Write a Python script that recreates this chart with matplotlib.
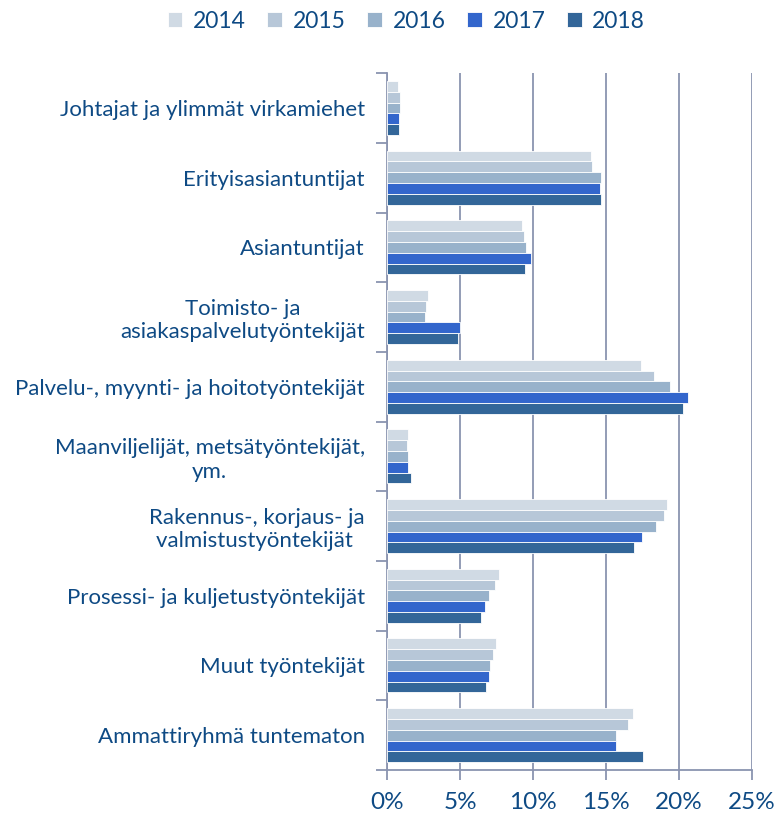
import numpy as np
import matplotlib.pyplot as plt
from matplotlib.ticker import FixedLocator, PercentFormatter

# occupational group shares (%) by year
categories = [
    'Johtajat ja ylimmät virkamiehet',
    'Erityisasiantuntijat',
    'Asiantuntijat',
    'Toimisto- ja\nasiakaspalvelutyöntekijät',
    'Palvelu-, myynti- ja hoitotyöntekijät',
    'Maanviljelijät, metsätyöntekijät,\nym.',
    'Rakennus-, korjaus- ja\nvalmistustyöntekijät ',
    'Prosessi- ja kuljetustyöntekijät',
    'Muut työntekijät',
    'Ammattiryhmä tuntematon',
]
years = ['2014', '2015', '2016', '2017', '2018']
v2014 = [0.78, 13.97, 9.25, 2.79, 17.4, 1.44, 19.2, 7.67, 7.44, 16.87]
v2015 = [0.89, 14.04, 9.36, 2.65, 18.3, 1.39, 18.97, 7.40, 7.24, 16.53]
v2016 = [0.91, 14.68, 9.54, 2.58, 19.4, 1.44, 18.45, 7.01, 7.05, 15.68]
v2017 = [0.84, 14.61, 9.84, 5.02, 20.64, 1.44, 17.49, 6.71, 7.01, 15.68]
v2018 = [0.80, 14.66, 9.45, 4.84, 20.25, 1.64, 16.92, 6.44, 6.76, 17.53]
series = [v2014, v2015, v2016, v2017, v2018]
colors = ['#D0DAE4', '#B7C7D8', '#98B2CB', '#3366CC', '#336699']

TEXT = '#0E4A84'
GRID = '#8A94B0'

plt.rcParams['font.family'] = ['Lato', 'DejaVu Sans']

fig = plt.figure(figsize=(7.77, 8.17), dpi=100)
ax = fig.add_axes([0.498, 0.0575, 0.47, 0.853])

n = len(categories)
y = np.arange(n)
bh = 0.155
for k, (yr, vals, c) in enumerate(zip(years, series, colors)):
    ax.barh(y + (k - 2) * bh, vals, height=bh, color=c, edgecolor='white',
            linewidth=0.6, label=yr, zorder=3)

ax.set_ylim(n - 0.5, -0.5)
ax.set_xlim(0, 25)
ax.xaxis.set_major_locator(FixedLocator([0, 5, 10, 15, 20, 25]))
ax.xaxis.set_major_formatter(PercentFormatter(decimals=0))
ax.grid(axis='x', color=GRID, linewidth=1.3, zorder=0)

ax.set_yticks(y)
ax.set_yticklabels(categories, fontsize=16, color=TEXT, ha='right',
                   multialignment='center')
ax.yaxis.set_minor_locator(FixedLocator(np.arange(-0.5, n, 1.0)))
ax.tick_params(axis='y', which='major', length=0, pad=16)
ax.tick_params(axis='y', which='minor', length=8, color=GRID, width=1.3)
ax.tick_params(axis='x', length=7, color=GRID, width=1.3, labelsize=17.5,
               labelcolor=TEXT, pad=9)

for s in ['top', 'right']:
    ax.spines[s].set_visible(False)
for s in ['left', 'bottom']:
    ax.spines[s].set_color(GRID)
    ax.spines[s].set_linewidth(1.3)

fig.legend(loc='upper center', bbox_to_anchor=(0.523, 1.012), ncol=5,
           frameon=False, fontsize=16.5, labelcolor=TEXT, handlelength=0.65,
           handleheight=0.65, handletextpad=0.45, columnspacing=0.95)

plt.savefig('out.png', dpi=100)
